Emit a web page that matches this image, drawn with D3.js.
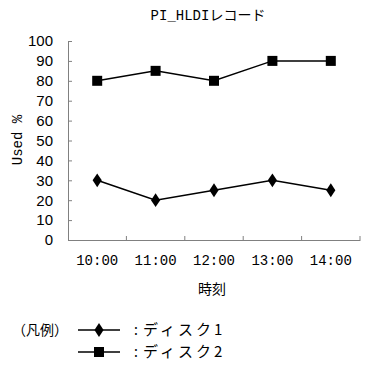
<!DOCTYPE html>
<html>
<head>
<meta charset="utf-8">
<script src="https://cdn.jsdelivr.net/npm/d3@7"></script>
<style>
  body { margin: 0; background: #fff; }
  text { fill: #000; }
  .mono { font-family: "Liberation Mono", "DejaVu Sans Mono", "Noto Sans CJK JP", monospace; }
  .jp { font-family: "Noto Sans CJK JP", sans-serif; }
  .num { font-family: "Liberation Sans Narrow", "Liberation Sans", Arial, sans-serif; }
</style>
</head>
<body>
<script>
const times = ["10:00", "11:00", "12:00", "13:00", "14:00"];
const disk1 = [30, 20, 25, 30, 25];
const disk2 = [80, 85, 80, 90, 90];
const yTicks = [0, 10, 20, 30, 40, 50, 60, 70, 80, 90, 100];

const width = 373;
const height = 369;

const svg = d3.select('body')
  .append('svg')
  .attr('width', width)
  .attr('height', height);

const x = d3.scaleBand().domain(times).range([68, 360]);
const y = d3.scaleLinear().domain([0, 100]).range([240, 41]);

// title
svg.append('text')
  .attr('class', 'mono')
  .attr('x', 208).attr('y', 20)
  .attr('text-anchor', 'middle')
  .style('font-size', '14px')
  .text('PI_HLDIレコード');

// y axis
const yAxis = svg.append('g')
  .attr('transform', 'translate(68,0)')
  .call(d3.axisLeft(y).tickValues(yTicks).tickSizeInner(-4).tickSizeOuter(0).tickPadding(15));
yAxis.select('.domain').attr('stroke', '#808080');
yAxis.selectAll('.tick line').attr('stroke', '#808080');
yAxis.selectAll('.tick text')
  .attr('class', 'num')
  .style('font-size', '15px')
  .attr('fill', '#000');

// x axis
const xAxis = svg.append('g')
  .attr('transform', 'translate(0,240)')
  .call(d3.axisBottom(x).tickSize(0).tickPadding(15));
xAxis.select('.domain').attr('stroke', '#808080');
xAxis.selectAll('.tick text')
  .attr('class', 'mono')
  .style('font-size', '14px')
  .attr('fill', '#000');

// boundary ticks on the category axis
svg.append('g')
  .selectAll('line')
  .data(times)
  .enter().append('line')
  .attr('x1', d => x(d) + x.bandwidth())
  .attr('x2', d => x(d) + x.bandwidth())
  .attr('y1', 240).attr('y2', 236)
  .attr('stroke', '#808080');

// axis titles
svg.append('text')
  .attr('class', 'mono')
  .attr('transform', 'translate(22,140) rotate(-90)')
  .attr('text-anchor', 'middle')
  .style('font-size', '14px')
  .text('Used %');

svg.append('text')
  .attr('class', 'jp')
  .attr('x', 212).attr('y', 294)
  .attr('text-anchor', 'middle')
  .style('font-size', '14px')
  .text('時刻');

const line = d3.line()
  .x((d, i) => x(times[i]) + x.bandwidth() / 2)
  .y(d => y(d));

const diamond = d3.symbol().type(d3.symbolDiamond).size(55);

function drawSeries(values, marker) {
  svg.append('path')
    .datum(values)
    .attr('d', line)
    .attr('fill', 'none')
    .attr('stroke', '#000')
    .attr('stroke-width', 1.5);
  const g = svg.append('g');
  values.forEach((v, i) => {
    const cx = x(times[i]) + x.bandwidth() / 2;
    const cy = y(v);
    marker(g, cx, cy);
  });
}

function drawDiamond(g, cx, cy) {
  g.append('path')
    .attr('d', diamond)
    .attr('transform', `translate(${cx},${cy}) scale(1.15,1)`)
    .attr('fill', '#000');
}

function drawSquare(g, cx, cy) {
  g.append('rect')
    .attr('x', cx - 5).attr('y', cy - 5)
    .attr('width', 10).attr('height', 10)
    .attr('fill', '#000');
}

drawSeries(disk1, drawDiamond);
drawSeries(disk2, drawSquare);

// legend
const legendItems = [
  { label: 'ディスク1', marker: drawDiamond, y: 330 },
  { label: 'ディスク2', marker: drawSquare, y: 352 }
];

svg.append('text')
  .attr('class', 'jp')
  .attr('x', 12).attr('y', 335)
  .style('font-size', '14px')
  .text('（凡例）');

legendItems.forEach(item => {
  svg.append('line')
    .attr('x1', 78).attr('x2', 120)
    .attr('y1', item.y).attr('y2', item.y)
    .attr('stroke', '#000')
    .attr('stroke-width', 1.5);
  item.marker(svg, 99, item.y);
  svg.append('text')
    .attr('class', 'jp')
    .attr('x', 134).attr('y', item.y + 5)
    .style('font-size', '14px')
    .text(':');
  svg.append('text')
    .attr('class', 'jp')
    .attr('x', 143).attr('y', item.y + 5)
    .style('font-size', '15px')
    .style('letter-spacing', '3px')
    .text(item.label);
});
</script>
</body>
</html>
